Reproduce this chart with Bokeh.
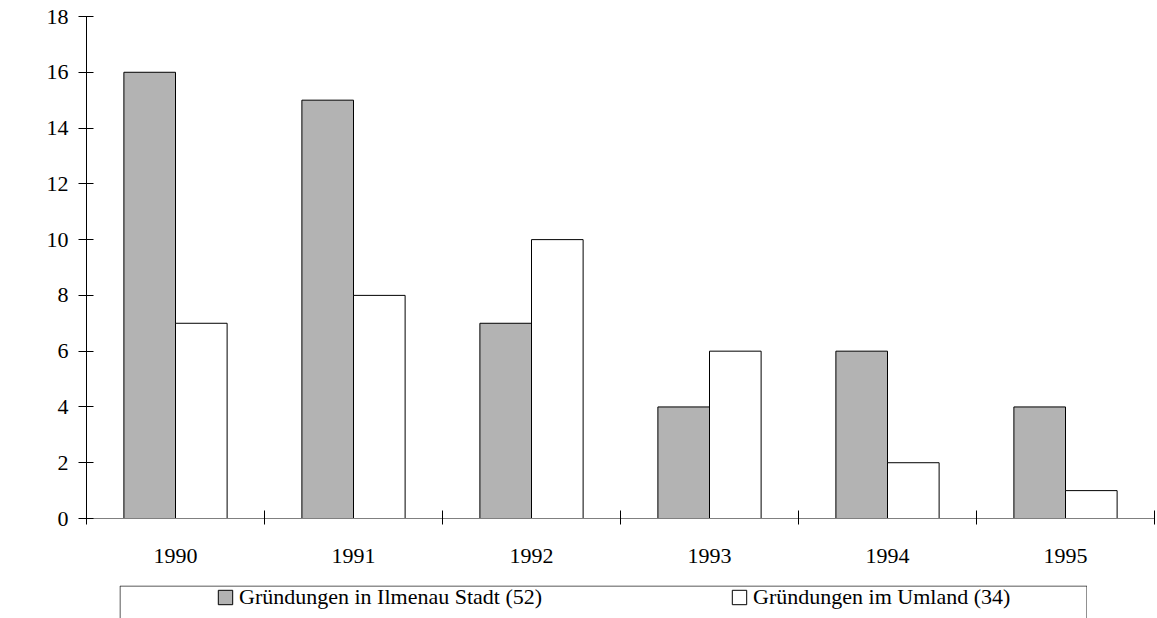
import numpy as np
from bokeh.plotting import figure
from bokeh.layouts import column, row
from bokeh.models import (Range1d, FixedTicker, Legend, LegendItem, BoxAnnotation, Label,
                          ColumnDataSource, Spacer)
from bokeh.embed import file_html
from bokeh.resources import INLINE

years = ["1990", "1991", "1992", "1993", "1994", "1995"]
stadt = [16, 15, 7, 4, 6, 4]
umland = [7, 8, 10, 6, 2, 1]
label_stadt = "Gründungen in Ilmenau Stadt (52)"
label_umland = "Gründungen im Umland (34)"
y_ticks = [0, 2, 4, 6, 8, 10, 12, 14, 16, 18]

FONT = "Liberation Serif"
bar_w = 0.29
STADT_FILL = "#b3b3b3"

centers = np.arange(len(years)) + 0.5
src = ColumnDataSource(dict(xs=centers - bar_w / 2, xu=centers + bar_w / 2, stadt=stadt, umland=umland))

p = figure(width=1157, height=585, output_backend="svg", toolbar_location=None,
           x_range=Range1d(0, len(years)), y_range=Range1d(0, 18),
           min_border_left=86, min_border_right=3, min_border_top=16, min_border_bottom=67)
p.outline_line_color = None
p.grid.grid_line_color = None

r1 = p.vbar(x="xs", top="stadt", width=bar_w, source=src, fill_color=STADT_FILL, line_color="black", line_width=1)
r2 = p.vbar(x="xu", top="umland", width=bar_w, source=src, fill_color="white", line_color="black", line_width=1)

# x axis
xa = p.xaxis[0]
xa.ticker = FixedTicker(ticks=list(centers), minor_ticks=list(range(len(years) + 1)))
xa.major_label_overrides = {float(c): y for c, y in zip(centers, years)}
xa.major_tick_line_color = None
xa.minor_tick_line_color = "black"
xa.minor_tick_in = 8
xa.minor_tick_out = 6
xa.axis_line_color = "#808080"
xa.major_label_text_font = FONT
xa.major_label_text_font_size = "22px"
xa.major_label_text_color = "black"
xa.major_label_standoff = 24

ya = p.yaxis[0]
ya.ticker = FixedTicker(ticks=y_ticks, minor_ticks=[])
ya.major_tick_in = 7
ya.major_tick_out = 8
ya.major_tick_line_color = "black"
ya.axis_line_color = "black"
ya.major_label_text_font = FONT
ya.major_label_text_font_size = "22px"
ya.major_label_text_color = "black"
ya.major_label_standoff = 10

p.add_layout(Label(x=15, y=299, x_units="canvas", y_units="canvas", text="Anzahl der Gründungen",
                   angle=np.pi / 2, text_align="center", text_baseline="middle",
                   text_font=FONT, text_font_size="11px", text_font_style="bold", text_color="black"))

# legend panel (its box is open at the bottom, as in the reference)
lf = figure(width=968, height=33, output_backend="svg", toolbar_location=None,
            x_axis_location=None, y_axis_location=None,
            x_range=Range1d(0, 1), y_range=Range1d(0, 1),
            min_border_left=0, min_border_right=0, min_border_top=0, min_border_bottom=0)
lf.outline_line_color = None
lf.grid.grid_line_color = None
# legend-only renderers: a single NaN placeholder, so nothing is drawn but the legend swatch
swatch = ColumnDataSource(dict(x=[np.nan], top=[np.nan]))
l1 = lf.vbar(x="x", top="top", width=0.1, source=swatch, fill_color=STADT_FILL, line_color="black", line_width=1)
l2 = lf.vbar(x="x", top="top", width=0.1, source=swatch, fill_color="white", line_color="black", line_width=1)

legend = Legend(items=[LegendItem(label=label_stadt, renderers=[l1], index=0),
                       LegendItem(label=label_umland, renderers=[l2], index=0)],
                orientation="horizontal", location=(97, 8), padding=0, margin=0,
                spacing=188, glyph_width=18, glyph_height=18, label_height=22,
                label_standoff=5, border_line_color=None, background_fill_alpha=0,
                label_text_font=FONT, label_text_font_size="22px", label_text_color="black")
lf.add_layout(legend, "center")
lf.add_layout(BoxAnnotation(left=0.5, right=967.5, top=0.5, bottom=200,
                            left_units="canvas", right_units="canvas", top_units="canvas", bottom_units="canvas",
                            fill_color=None, line_color="#222222", line_alpha=1.0, line_width=1))

layout = column(p, row(Spacer(width=119), lf, spacing=0), spacing=0)

open("out.html", "w").write(file_html(layout, INLINE))
